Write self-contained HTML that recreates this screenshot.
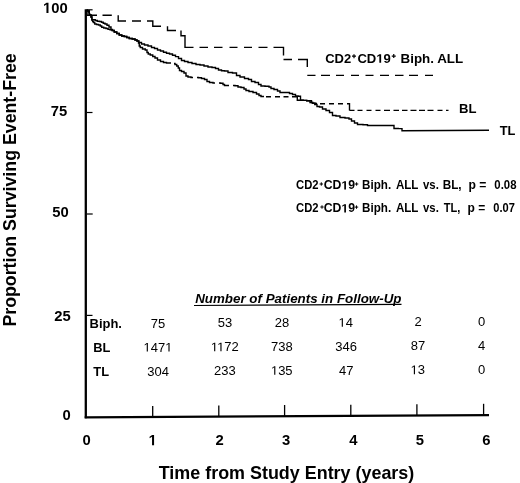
<!DOCTYPE html>
<html><head><meta charset="utf-8">
<style>
html,body{margin:0;padding:0;background:#fff;}
body{width:520px;height:483px;overflow:hidden;}
svg{display:block;filter:grayscale(1);}
text{font-family:"Liberation Sans",sans-serif;fill:#000;}
</style></head><body>
<svg width="520" height="483" viewBox="0 0 520 483">
<g stroke="#000" fill="none">
<line x1="85.8" y1="9.2" x2="85.8" y2="418.3" stroke-width="2.3"/>
<line x1="84.7" y1="417.3" x2="489" y2="415.2" stroke-width="2.2"/>
<g stroke-width="1.2">
<line x1="87" y1="9.8" x2="92.6" y2="9.8"/>
<line x1="87" y1="112.5" x2="92.5" y2="112.5"/>
<line x1="87" y1="214" x2="92.7" y2="214"/>
<line x1="87" y1="315.4" x2="92.5" y2="315.4"/>
</g>
<g stroke-width="1.3">
<line x1="152.7" y1="406" x2="152.7" y2="417"/>
<line x1="218.8" y1="405.5" x2="218.8" y2="416.5"/>
<line x1="284.6" y1="405" x2="284.6" y2="416"/>
<line x1="350.8" y1="404.8" x2="350.8" y2="415.8"/>
<line x1="416.9" y1="404.3" x2="416.9" y2="415.5"/>
<line x1="483.6" y1="403.8" x2="483.6" y2="415"/>
</g>
<line x1="194" y1="305.5" x2="401.5" y2="304.3" stroke-width="1.2"/>
<g stroke-width="1.2">
<path stroke-width="1.2" d="M352.00,56.20H356.00M354.00,54.20V58.20"/>
<path stroke-width="1.2" d="M391.75,56.10H395.75M393.75,54.10V58.10"/>
<path stroke-width="1.0" d="M319.60,184.00H323.00M321.30,182.30V185.70"/>
<path stroke-width="1.0" d="M354.90,184.00H358.30M356.60,182.30V185.70"/>
<path stroke-width="1.0" d="M320.30,207.00H323.70M322.00,205.30V208.70"/>
<path stroke-width="1.0" d="M354.80,207.10H358.20M356.50,205.40V208.80"/>
</g>
</g>
<g fill="none" stroke="#000" stroke-width="1.4" stroke-linejoin="miter" stroke-linecap="butt">
<path d="M88,11 L89.25,11 L89.25,15 L90.5,15 L91.0,15 L91.0,17 L91.5,17 L91.95,17 L91.95,19.8 L92.4,19.8 L94.5,19.8 L95.25,19.8 L95.25,20.5 L96,20.5 L97.25,20.5 L97.25,21.25 L98.5,21.25 L99.5,21.25 L99.5,21.5 L100.5,21.5 L101.5,21.5 L101.5,22.25 L102.5,22.25 L103.25,22.25 L103.25,23.25 L104,23.25 L105.0,23.25 L105.0,24 L106,24 L107.0,24 L107.0,25.3 L108,25.3 L109.0,25.3 L109.0,27 L110,27 L111.0,27 L111.0,29.5 L112,29.5 L112.5,29.5 L112.5,30.5 L113,30.5 L114.25,30.5 L114.25,32 L115.5,32 L116.75,32 L116.75,33.5 L118,33.5 L119.25,33.5 L119.25,35 L120.5,35 L121.75,35 L121.75,36 L123,36 L124.25,36 L124.25,36.5 L125.5,36.5 L126.75,36.5 L126.75,37.5 L128,37.5 L129.25,37.5 L129.25,38.5 L130.5,38.5 L132.25,38.5 L132.25,39 L134,39 L135.0,39 L135.0,40 L136,40 L137.0,40 L137.0,41 L138,41 L139.0,41 L139.0,42.5 L140,42.5 L141.5,42.5 L141.5,44 L143,44 L144.5,44 L144.5,45 L146,45 L148.0,45 L148.0,46 L150,46 L151.5,46 L151.5,47.5 L153,47.5 L154.5,47.5 L154.5,48.5 L156,48.5 L157.5,48.5 L157.5,50 L159,50 L160.5,50 L160.5,51 L162,51 L163.5,51 L163.5,52.2 L165,52.2 L166.5,52.2 L166.5,53.2 L168,53.2 L169.5,53.2 L169.5,54 L171,54 L172.5,54 L172.5,55.2 L174,55.2 L175.5,55.2 L175.5,56.6 L177,56.6 L178.5,56.6 L178.5,58.5 L180,58.5 L181.5,58.5 L181.5,60.5 L183,60.5 L184.5,60.5 L184.5,61.5 L186,61.5 L188.0,61.5 L188.0,62.5 L190,62.5 L192.0,62.5 L192.0,63.5 L194,63.5 L196.0,63.5 L196.0,64.5 L198,64.5 L200.0,64.5 L200.0,65 L202,65 L204.0,65 L204.0,66 L206,66 L208.0,66 L208.0,67 L210,67 L212.0,67 L212.0,67.5 L214,67.5 L215.5,67.5 L215.5,68.5 L217,68.5 L218.5,68.5 L218.5,70 L220,70 L221.5,70 L221.5,70.7 L223,70.7 L224.5,70.7 L224.5,71 L226,71 L228.0,71 L228.0,72.5 L230,72.5 L232.5,72.5 L232.5,73 L235,73 L236.5,73 L236.5,75.5 L238,75.5 L240.0,75.5 L240.0,77 L242,77 L244.5,77 L244.5,78.5 L247,78.5 L248.5,78.5 L248.5,79.5 L250,79.5 L251.5,79.5 L251.5,81.5 L253,81.5 L255.0,81.5 L255.0,82.5 L257,82.5 L258.5,82.5 L258.5,84.5 L260,84.5 L261.0,84.5 L261.0,86 L262,86 L265.0,86 L265.0,86.3 L268,86.3 L269.0,86.3 L269.0,87 L270,87 L271.0,87 L271.0,88.5 L272,88.5 L274.0,88.5 L274.0,89.5 L276,89.5 L277.5,89.5 L277.5,91 L279,91 L280.0,91 L280.0,92.5 L281,92.5 L288,92.5 L289.5,92.5 L289.5,93.5 L291,93.5 L292.5,93.5 L292.5,94.5 L294,94.5 L295.5,94.5 L295.5,96 L297,96 L298.25,96 L298.25,96.2 L299.5,96.2 L300.5,96.2 L300.5,100.2 L301.5,100.2 L303.25,100.2 L303.25,100.4 L305,100.4 L306.75,100.4 L306.75,100.7 L308.5,100.7 L310.0,100.7 L310.0,102.5 L311.5,102.5 L312.5,102.5 L312.5,103.3 L313.5,103.3 L314.75,103.3 L314.75,104.5 L316,104.5 L317.0,104.5 L317.0,106.5 L318,106.5 L319.5,106.5 L319.5,107 L321,107 L322.5,107 L322.5,109 L324,109 L326.0,109 L326.0,110.5 L328,110.5 L329.5,110.5 L329.5,112.5 L331,112.5 L332.5,112.5 L332.5,115.5 L334,115.5 L336.0,115.5 L336.0,116 L338,116 L340.0,116 L340.0,117.5 L342,117.5 L345.0,117.5 L345.0,118 L348,118 L349.0,118 L349.0,119 L350,119 L351.5,119 L351.5,121 L353,121 L354.5,121 L354.5,123 L356,123 L357.5,123 L357.5,124.5 L359,124.5 L363.0,124.5 L363.0,124.8 L367,124.8 L367.5,124.8 L367.5,125.5 L368,125.5 L393.5,125.5 L394.0,125.5 L394.0,128.5 L394.5,128.5 L398.25,128.5 L398.25,128.6 L402,128.6 L402,130.8 L489,130.3"/>
<path d="M86.5,10 L88,11 L90.5,15"/>
<path d="M86.5,10 L87.25,10 L87.25,11 L88,11 L89.25,11 L89.25,15 L90.5,15 L91.0,15 L91.0,17 L91.5,17 L91.88,17 L91.88,20 L92.25,20 L92.62,20 L92.62,21.5 L93,21.5 L93.5,21.5 L93.5,22.5 L94,22.5 L94.75,22.5 L94.75,24 L95.5,24 L96.5,24 L96.5,24.5 L97.5,24.5 L98.5,24.5 L98.5,25 L99.5,25 L100.25,25 L100.25,26 L101,26 L101.75,26 L101.75,27.25 L102.5,27.25 L103.75,27.25 L103.75,28 L105,28 L106.0,28 L106.0,28.5 L107,28.5 L108.0,28.5 L108.0,29.2 L109,29.2 L110.0,29.2 L110.0,29.8 L111,29.8 L112.0,29.8 L112.0,30.5 L113,30.5 L114.25,30.5 L114.25,32 L115.5,32 L116.75,32 L116.75,33.5 L118,33.5 L119.25,33.5 L119.25,35 L120.5,35 L121.75,35 L121.75,36 L123,36 L124.25,36 L124.25,36.5 L125.5,36.5 L126.75,36.5 L126.75,37.5 L128,37.5 L129.25,37.5 L129.25,38.5 L130.5,38.5 L132.25,38.5 L132.25,39 L134,39 L135.0,39 L135.0,40 L136,40 L137.0,40 L137.0,41 L138,41 L138.5,41 L138.5,43 L139,43 L139.25,43 L139.25,46 L139.5,46 L140.25,46 L140.25,47.5 L141,47.5 L142.5,47.5 L142.5,49 L144,49 L145.25,49 L145.25,50 L146.5,50 L147.0,50 L147.0,52.5 L147.5,52.5 L148.25,52.5 L148.25,54 L149,54 L150.25,54 L150.25,55 L151.5,55 L152.75,55 L152.75,56.5 L154,56.5 L155.0,56.5 L155.0,58 L156,58 L157.5,58 L157.5,60 L159,60 L160.5,60 L160.5,61.5 L162,61.5 L163.5,61.5 L163.5,62.5 L165,62.5 L166.5,62.5 L166.5,63 L168,63 L171,63 M174,63.5 L175.0,63.5 L175.0,64.5 L176,64.5 L176.75,64.5 L176.75,66 L177.5,66 L178.25,66 L178.25,68 L179,68 L179.5,68 L179.5,70.5 L180,70.5 L181.5,70.5 L181.5,71.5 L183,71.5 L184.0,71.5 L184.0,73 L185,73 L186.0,73 L186.0,76 L187,76 L188.0,76 L188.0,77 L189,77 L191.0,77 L191.0,77.5 L193,77.5 M197,77.5 L198.5,77.5 L198.5,77.8 L200,77.8 L201.5,77.8 L201.5,78.5 L203,78.5 L204.5,78.5 L204.5,79.5 L206,79.5 L207.0,79.5 L207.0,81.5 L208,81.5 L209.5,81.5 L209.5,82.5 L211,82.5 L213.0,82.5 L213.0,83 L215,83 M219,83 L220.5,83 L220.5,83.2 L222,83.2 L223.0,83.2 L223.0,84.5 L224,84.5 L224.5,84.5 L224.5,85.5 L225,85.5 L229,85.5 M233,85.5 L235.0,85.5 L235.0,85.7 L237,85.7 L238.0,85.7 L238.0,87 L239,87 L241.0,87 L241.0,87.5 L243,87.5 L244.0,87.5 L244.0,89 L245,89 L246.0,89 L246.0,90.5 L247,90.5 L249.0,90.5 L249.0,91.5 L251,91.5 L253.0,91.5 L253.0,92.5 L255,92.5 L256.5,92.5 L256.5,94 L258,94 L259.0,94 L259.0,95.5 L260,95.5 L261.0,95.5 L261.0,96.5 L262,96.5 L264,96.5 M266,96.7 L268.5,96.7 L268.5,96.8 L271,96.8 M275,96.8 L280,96.8 M283.5,96.8 L288.5,96.8 M292,96.8 L297.3,96.8 L297.3,100.2 L301.5,100.2 L303.25,100.2 L303.25,100.4 L305,100.4 L306.75,100.4 L306.75,100.7 L308.5,100.7 L311.5,100.7 L311.5,102.5 L312.75,102.5 L312.75,103.1 L314,103.1 L315.5,103.1 L315.5,103.5 L317,103.5 M320,103.8 L325,103.8 M329,103.8 L334,103.8 M338,103.8 L343,103.8 M347,103.8 L349.5,103.8 L349.5,110.4 M349.5,110.4 L354.5,110.4 M357.5,110.4 L362.5,110.4 M366.5,110.4 L371.5,110.4 M375.5,110.4 L380.5,110.4 M384,110.4 L390,110.4 M393.5,110.4 L399,110.4 M402,110.4 L407.5,110.4 M410.5,110.4 L416.5,110.4 M419,110.4 L425,110.4 M427.5,110.4 L433.5,110.4 M437.5,110.4 L442.5,110.4 M446,110.4 L448.5,110.4"/>
<path d="M87,10 L87,15.2 L97,15.2 M102.5,15.2 L111.8,15.2 M118.2,15.2 L118.2,21 L126,21 M132,21 L141,21 M147,21 L152.8,21 L152.8,26.2 L161,26.2 M167.5,26.2 L167.5,30.5 L176,30.5 M181,30.5 L181,35.8 L185,35.8 L185,47.4 L193.5,47.4 M199.5,47.4 L208,47.4 M214,47.4 L222.5,47.4 M229.5,47.4 L237.5,47.4 M244,47.4 L252,47.4 M258.5,47.4 L267.5,47.4 M273.5,47.4 L283.5,47.4 L283.5,55.5 M283.5,59.5 L292,59.5 M298,59.5 L307.3,59.5 L307.3,67 M307.3,75.4 L315.5,75.4 M321,75.4 L330,75.4 M336,75.4 L344,75.4 M351,75.4 L359,75.4 M365.5,75.4 L373.5,75.4 M380,75.4 L389,75.4 M395,75.4 L403.5,75.4 M409,75.4 L418,75.4 M425,75.4 L433,75.4"/>
</g>
<g transform="translate(42.99,13.0) scale(1.000,1)"><path d="M478,0L478,1170L140,959L140,1180L493,1409L759,1409L759,0Z" transform="translate(0.000,0) scale(0.00723,-0.00723)"/><text font-weight="bold" font-size="14.8" x="8.231" y="0">00</text></g>
<text font-weight="bold" font-size="14.8" transform="translate(50.67,116.0) scale(1.000,1)">75</text>
<text font-weight="bold" font-size="14.8" transform="translate(52.36,217.3) scale(1.000,1)">50</text>
<text font-weight="bold" font-size="14.8" transform="translate(54.23,320.6) scale(1.000,1)">25</text>
<text font-weight="bold" font-size="14.8" transform="translate(62.39,420.2) scale(1.000,1)">0</text>
<text font-weight="bold" font-size="14.8" transform="translate(82.59,445.4) scale(1.000,1)">0</text>
<g transform="translate(148.58,445.27) scale(1.000,1)"><path d="M478,0L478,1170L140,959L140,1180L493,1409L759,1409L759,0Z" transform="translate(0.000,0) scale(0.00723,-0.00723)"/></g>
<text font-weight="bold" font-size="14.8" transform="translate(215.38,445.13) scale(1.000,1)">2</text>
<text font-weight="bold" font-size="14.8" transform="translate(281.99,445.0) scale(1.000,1)">3</text>
<text font-weight="bold" font-size="14.8" transform="translate(349.17,444.87) scale(1.000,1)">4</text>
<text font-weight="bold" font-size="14.8" transform="translate(415.87,444.73) scale(1.000,1)">5</text>
<text font-weight="bold" font-size="14.8" transform="translate(482.37,444.6) scale(1.000,1)">6</text>
<text font-weight="bold" font-size="18.0" transform="translate(158.72,479.0) scale(0.996,1)">Time from Study Entry (years)</text>
<text font-weight="bold" font-size="12.2" transform="translate(325.13,62.7) scale(1.065,1)">CD2</text>
<g transform="translate(357.38,62.7) scale(1.073,1)"><text font-weight="bold" font-size="12.2" x="0.000" y="0">CD</text><path d="M478,0L478,1170L140,959L140,1180L493,1409L759,1409L759,0Z" transform="translate(17.621,0) scale(0.00596,-0.00596)"/><text font-weight="bold" font-size="12.2" x="24.406" y="0">9</text></g>
<text font-weight="bold" font-size="12.2" transform="translate(400.50,62.7) scale(1.099,1)">Biph. ALL</text>
<text font-weight="bold" font-size="12.4" transform="translate(459.01,112.5) scale(1.058,1)">BL</text>
<text font-weight="bold" font-size="12.6" transform="translate(499.67,134.5) scale(1.022,1)">TL</text>
<text font-weight="bold" font-size="11.9" transform="translate(296.05,189.4) scale(0.945,1)">CD2</text>
<g transform="translate(323.71,189.4) scale(1.030,1)"><text font-weight="bold" font-size="11.9" x="0.000" y="0">CD</text><path d="M478,0L478,1170L140,959L140,1180L493,1409L759,1409L759,0Z" transform="translate(17.188,0) scale(0.00581,-0.00581)"/><text font-weight="bold" font-size="11.9" x="23.806" y="0">9</text></g>
<text font-weight="bold" font-size="11.9" transform="translate(362.12,189.4) scale(0.977,1)">Biph.</text>
<text font-weight="bold" font-size="11.9" transform="translate(395.91,189.4) scale(0.975,1)">ALL</text>
<text font-weight="bold" font-size="11.9" transform="translate(423.04,189.4) scale(0.957,1)">vs.</text>
<text font-weight="bold" font-size="11.9" transform="translate(442.71,189.4) scale(0.986,1)">BL,</text>
<text font-weight="bold" font-size="11.9" transform="translate(296.05,212.4) scale(0.945,1)">CD2</text>
<g transform="translate(323.71,212.4) scale(1.030,1)"><text font-weight="bold" font-size="11.9" x="0.000" y="0">CD</text><path d="M478,0L478,1170L140,959L140,1180L493,1409L759,1409L759,0Z" transform="translate(17.188,0) scale(0.00581,-0.00581)"/><text font-weight="bold" font-size="11.9" x="23.806" y="0">9</text></g>
<text font-weight="bold" font-size="11.9" transform="translate(362.12,212.4) scale(0.977,1)">Biph.</text>
<text font-weight="bold" font-size="11.9" transform="translate(395.91,212.4) scale(0.975,1)">ALL</text>
<text font-weight="bold" font-size="11.9" transform="translate(423.04,212.4) scale(0.957,1)">vs.</text>
<text font-weight="bold" font-size="11.9" transform="translate(443.79,212.4) scale(0.927,1)">TL,</text>
<text font-weight="bold" font-size="11.9" transform="translate(468.41,189.4) scale(1.022,1)">p =</text>
<text font-weight="bold" font-size="11.9" transform="translate(494.35,189.4) scale(0.955,1)">0.08</text>
<text font-weight="bold" font-size="11.9" transform="translate(467.62,212.4) scale(1.010,1)">p =</text>
<text font-weight="bold" font-size="11.9" transform="translate(493.36,212.4) scale(0.929,1)">0.07</text>
<text font-weight="bold" font-size="17.5" transform="translate(15.9,326.60) rotate(-90) scale(1.015,1)">Proportion Surviving Event-Free</text>
<text font-weight="bold" font-style="italic" font-size="12.8" transform="translate(195.17,303.3) scale(1.044,1)">Number of Patients in Follow-Up</text>
<text font-weight="bold" font-size="12.3" transform="translate(89.52,327.5) scale(1.055,1)">Biph.</text>
<text font-weight="bold" font-size="12.3" transform="translate(93.33,352.0) scale(1.047,1)">BL</text>
<text font-weight="bold" font-size="12.3" transform="translate(93.27,376.0) scale(1.047,1)">TL</text>
<text  font-size="12.5" transform="translate(150.80,327.7) scale(1.040,1)">75</text>
<text  font-size="12.5" transform="translate(217.80,327.35) scale(1.040,1)">53</text>
<text  font-size="12.5" transform="translate(274.74,327.06) scale(1.040,1)">28</text>
<g transform="translate(338.48,326.72) scale(1.040,1)"><path d="M515,0L515,1237L197,1010L197,1180L530,1409L696,1409L696,0Z" transform="translate(0.000,0) scale(0.00610,-0.00610)"/><text  font-size="12.5" x="6.952" y="0">4</text></g>
<text  font-size="12.5" transform="translate(414.39,326.35) scale(1.040,1)">2</text>
<text  font-size="12.5" transform="translate(477.88,326.02) scale(1.040,1)">0</text>
<g transform="translate(143.47,351.6) scale(1.040,1)"><path d="M515,0L515,1237L197,1010L197,1180L530,1409L696,1409L696,0Z" transform="translate(0.000,0) scale(0.00610,-0.00610)"/><text  font-size="12.5" x="6.952" y="0">47</text><path d="M515,0L515,1237L197,1010L197,1180L530,1409L696,1409L696,0Z" transform="translate(20.856,0) scale(0.00610,-0.00610)"/></g>
<g transform="translate(210.86,351.25) scale(1.040,1)"><path d="M515,0L515,1237L197,1010L197,1180L530,1409L696,1409L696,0Z" transform="translate(0.000,0) scale(0.00610,-0.00610)"/><path d="M515,0L515,1237L197,1010L197,1180L530,1409L696,1409L696,0Z" transform="translate(6.024,0) scale(0.00610,-0.00610)"/><text  font-size="12.5" x="12.976" y="0">72</text></g>
<text  font-size="12.5" transform="translate(271.10,350.96) scale(1.040,1)">738</text>
<text  font-size="12.5" transform="translate(335.19,350.62) scale(1.040,1)">346</text>
<text  font-size="12.5" transform="translate(410.83,350.25) scale(1.040,1)">87</text>
<text  font-size="12.5" transform="translate(477.93,349.92) scale(1.040,1)">4</text>
<text  font-size="12.5" transform="translate(147.20,375.5) scale(1.040,1)">304</text>
<text  font-size="12.5" transform="translate(214.11,375.15) scale(1.040,1)">233</text>
<g transform="translate(270.93,374.86) scale(1.040,1)"><path d="M515,0L515,1237L197,1010L197,1180L530,1409L696,1409L696,0Z" transform="translate(0.000,0) scale(0.00610,-0.00610)"/><text  font-size="12.5" x="6.952" y="0">35</text></g>
<text  font-size="12.5" transform="translate(338.96,374.52) scale(1.040,1)">47</text>
<g transform="translate(410.57,374.15) scale(1.040,1)"><path d="M515,0L515,1237L197,1010L197,1180L530,1409L696,1409L696,0Z" transform="translate(0.000,0) scale(0.00610,-0.00610)"/><text  font-size="12.5" x="6.952" y="0">3</text></g>
<text  font-size="12.5" transform="translate(477.88,373.82) scale(1.040,1)">0</text>
</svg>
</body></html>
